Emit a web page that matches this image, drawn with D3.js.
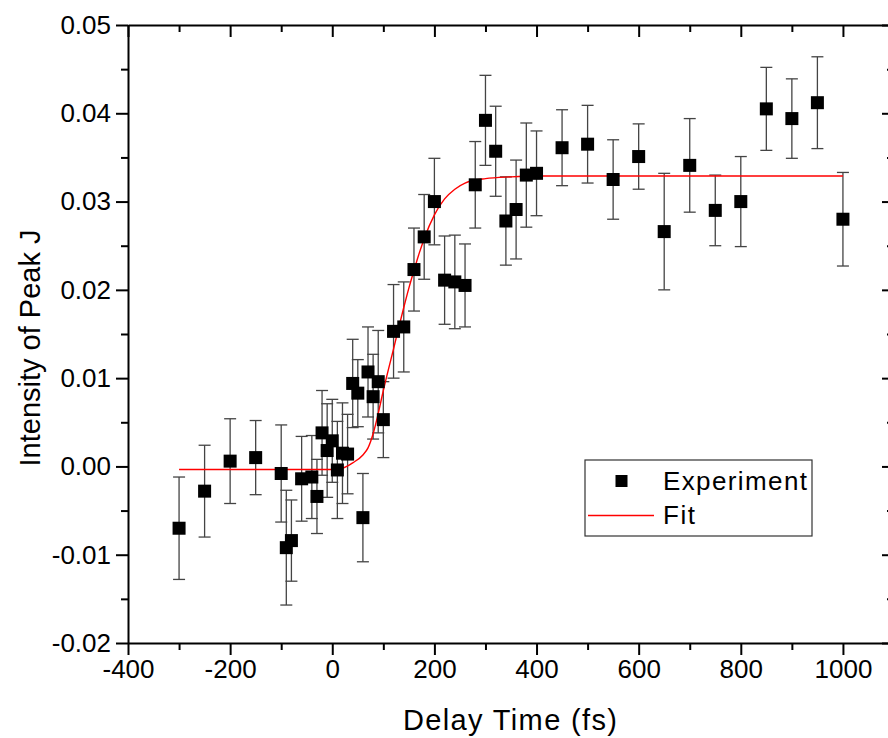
<!DOCTYPE html>
<meta charset="utf-8">
<style>
body { margin: 0; background: #fff; }
text { font-family: "Liberation Sans", Arial, sans-serif; fill: #000; }
.axis path, .axis line { stroke: #000; stroke-width: 2px; }
.err { stroke: #444; stroke-width: 1.3px; }
.fit { fill: none; stroke: #ff0000; stroke-width: 1.4px; }
</style>
<body>
<svg width="888" height="738"></svg>
<script src="https://d3js.org/d3.v7.min.js"></script>
<script>

// delay time (fs), intensity, error
var delay = [-300, -250, -200, -150, -100, -90, -80, -60, -40, -30, -20, -10, 0, 10, 20, 30, 40, 50, 60, 70,
             80, 90, 100, 120, 140, 160, 180, 200, 220, 240, 260, 280, 300, 320, 340, 360, 380, 400,
             450, 500, 550, 600, 650, 700, 750, 800, 850, 900, 950, 1000];
var intensity = [-0.0070, -0.0028, 0.0006, 0.0010, -0.0008, -0.0092, -0.0084, -0.0014, -0.0012, -0.0034,
                 0.0038, 0.0018, 0.0029, -0.0004, 0.0015, 0.0014, 0.0094, 0.0083, -0.0058, 0.0107,
                 0.0079, 0.0096, 0.0053, 0.0153, 0.0158, 0.0223, 0.0260, 0.0300, 0.0211, 0.0209,
                 0.0205, 0.0319, 0.0392, 0.0357, 0.0278, 0.0291, 0.0330, 0.0332,
                 0.0361, 0.0365, 0.0325, 0.0351, 0.0266, 0.0341, 0.0290, 0.0300, 0.0405, 0.0394, 0.0412, 0.0280];
var errs = [0.0058, 0.0052, 0.0048, 0.0042, 0.0055, 0.0065, 0.0046, 0.0048, 0.0047, 0.0042,
            0.0048, 0.0053, 0.0047, 0.0055, 0.0057, 0.0045, 0.0050, 0.0038, 0.0050, 0.0051,
            0.0048, 0.0058, 0.0043, 0.0053, 0.0051, 0.0047, 0.0048, 0.0049, 0.0050, 0.0053,
            0.0047, 0.0049, 0.0051, 0.0051, 0.0050, 0.0056, 0.0059, 0.0048,
            0.0043, 0.0044, 0.0045, 0.0037, 0.0066, 0.0053, 0.0040, 0.0051, 0.0047, 0.0045, 0.0052, 0.0053];

// fit curve
var fitX = [-300, -100, 0, 20, 40, 60, 70, 80, 90, 100, 110, 120, 130, 140, 150, 160, 170, 180, 200, 220, 240, 260, 300, 350, 400, 1000];
var fitY = [-0.00035, -0.00035, -0.00035, -0.0002, 0.0004, 0.0013, 0.0021, 0.0037, 0.0060, 0.0086, 0.0110, 0.0133,
            0.0157, 0.0180, 0.0202, 0.0222, 0.0241, 0.0258, 0.0285, 0.0303, 0.0314, 0.0321, 0.0326, 0.0328, 0.0329, 0.0329];

var xMajor = [-400, -200, 0, 200, 400, 600, 800, 1000];
var xMinor = [-300, -100, 100, 300, 500, 700, 900, 1100];
var yMajor = [-0.02, -0.01, 0.00, 0.01, 0.02, 0.03, 0.04, 0.05];
var yMinor = [-0.015, -0.005, 0.005, 0.015, 0.025, 0.035, 0.045];

var svg = d3.select("svg");
var mLeft = 128, mRight = 894, mTop = 25, mBottom = 643;

var x = d3.scaleLinear().domain([-400, 1100]).range([mLeft, mRight]);
var y = d3.scaleLinear().domain([-0.02, 0.05]).range([mBottom, mTop]);

var pts = delay.map((d, i) => ({x: d, y: intensity[i], e: errs[i]}));
var fit = fitX.map((d, i) => ({x: d, y: fitY[i]}));

// axes: bottom / left ticks out, top / right ticks in
function addAxis(gen, tr, major, minor, fmt, size) {
  svg.append("g").attr("class", "axis").attr("transform", tr)
    .call(gen.tickValues(major).tickSize(size).tickSizeOuter(0).tickPadding(5).tickFormat(fmt));
  svg.append("g").attr("class", "axis").attr("transform", tr)
    .call(gen.tickValues(minor).tickSize(size > 0 ? 7 : -7).tickFormat(""))
    .select(".domain").remove();
}

addAxis(d3.axisBottom(x), "translate(0," + mBottom + ")", xMajor, xMinor, d => String(d), 12);
addAxis(d3.axisLeft(y), "translate(" + mLeft + ",0)", yMajor, yMinor, d => d.toFixed(2), 12);
addAxis(d3.axisTop(x), "translate(0," + mTop + ")", xMajor, xMinor, "", -12);
addAxis(d3.axisRight(y), "translate(" + mRight + ",0)", yMajor, yMinor, "", -12);

svg.selectAll(".axis text").attr("font-size", 26).attr("font-family", "Liberation Sans, Arial, sans-serif");

// error bars
var eb = svg.append("g");
pts.forEach(p => {
  var cx = x(p.x);
  eb.append("line").attr("class", "err").attr("x1", cx).attr("x2", cx).attr("y1", y(p.y - p.e)).attr("y2", y(p.y + p.e));
  eb.append("line").attr("class", "err").attr("x1", cx - 6).attr("x2", cx + 6).attr("y1", y(p.y + p.e)).attr("y2", y(p.y + p.e));
  eb.append("line").attr("class", "err").attr("x1", cx - 6).attr("x2", cx + 6).attr("y1", y(p.y - p.e)).attr("y2", y(p.y - p.e));
});

// fit line
svg.append("path").datum(fit).attr("class", "fit")
  .attr("d", d3.line().x(d => x(d.x)).y(d => y(d.y)).curve(d3.curveMonotoneX));

// markers
svg.append("g").selectAll("rect").data(pts).enter().append("rect")
  .attr("x", d => x(d.x) - 6.5).attr("y", d => y(d.y) - 6.5)
  .attr("width", 13).attr("height", 13).attr("fill", "#000");

// legend
var lg = svg.append("g");
lg.append("rect").attr("x", 585).attr("y", 460).attr("width", 227).attr("height", 76)
  .attr("fill", "#fff").attr("stroke", "#333").attr("stroke-width", 1.2);
lg.append("rect").attr("x", 615.5).attr("y", 475).attr("width", 12).attr("height", 12).attr("fill", "#000");
lg.append("text").attr("x", 663).attr("y", 490).attr("font-size", 26).attr("textLength", 144).text("Experiment");
lg.append("line").attr("x1", 588).attr("x2", 654).attr("y1", 515.5).attr("y2", 515.5)
  .attr("stroke", "#ff0000").attr("stroke-width", 1.4);
lg.append("text").attr("x", 663).attr("y", 524).attr("font-size", 26).attr("textLength", 32).text("Fit");

// axis titles
svg.append("text").attr("x", 510).attr("y", 730).attr("text-anchor", "middle")
  .attr("font-size", 29).attr("textLength", 214).text("Delay Time (fs)");
svg.append("text").attr("transform", "translate(40,348) rotate(-90)").attr("text-anchor", "middle")
  .attr("font-size", 29).text("Intensity of Peak J");

</script>
</body>
